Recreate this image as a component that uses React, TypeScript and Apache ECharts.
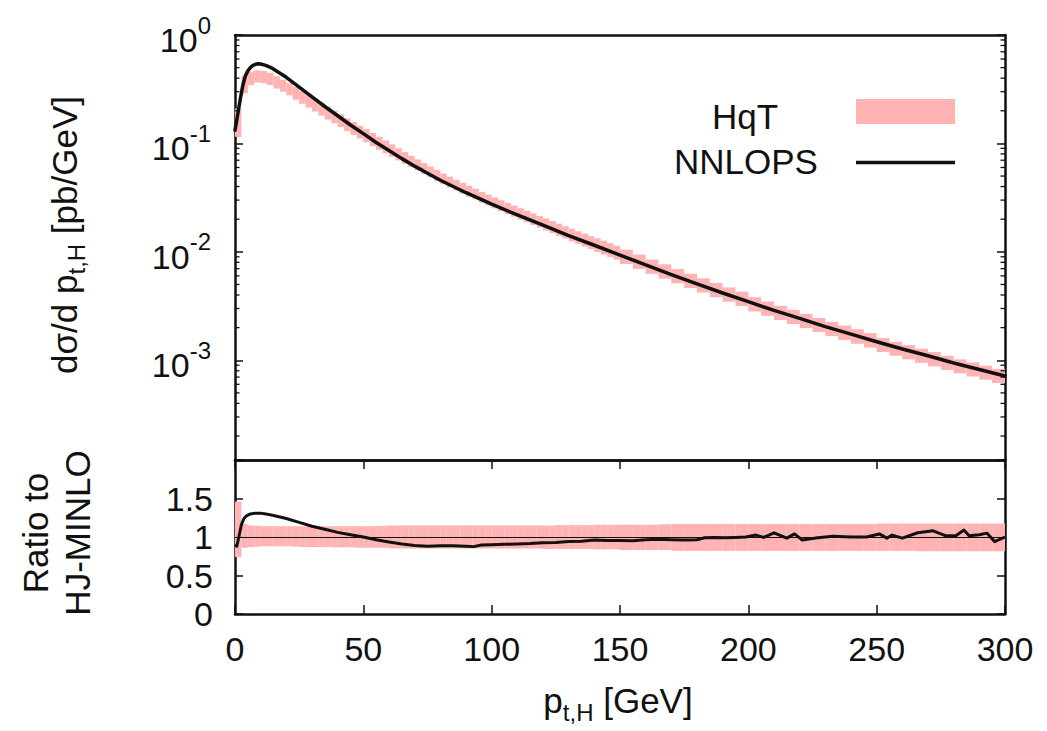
import React, { useEffect, useRef } from "react";
import * as echarts from "echarts";

const FONT = '"Liberation Sans", Arial, Helvetica, sans-serif';
const PINK = "#ffb3b3";
const INK = "#111111";

// HqT histogram bins (GeV)
const binEdges = [
  0, 2.5, 5, 7.5, 10, 12.5, 15, 17.5, 20, 22.5, 25, 27.5, 30, 32.5, 35, 37.5, 40, 42.5, 45, 47.5,
  50, 52.5, 55, 57.5, 60, 62.5, 65, 67.5, 70, 72.5, 75, 77.5, 80, 82.5, 85, 87.5, 90, 92.5, 95, 97.5,
  100, 102.5, 105, 107.5, 110, 112.5, 115, 117.5, 120, 122.5, 125, 127.5, 130, 132.5, 135, 137.5, 140, 142.5, 145, 147.5,
  150, 155, 160, 165, 170, 175, 180, 185, 190, 195, 200, 205, 210, 215, 220, 225, 230, 235, 240, 245,
  250, 255, 260, 265, 270, 275, 280, 285, 290, 295, 300,
];

// HqT band, dσ/dpt [pb/GeV]
const hqtLo = [
  0.115, 0.29, 0.345, 0.364, 0.359, 0.346, 0.321, 0.3, 0.278, 0.253,
  0.232, 0.214, 0.197, 0.1806, 0.1663, 0.1535, 0.1416, 0.13, 0.12, 0.111,
  0.1028, 0.0944, 0.0873, 0.0811, 0.0752, 0.0698, 0.0649, 0.0603, 0.0562, 0.0524,
  0.0488, 0.0452, 0.0421, 0.0394, 0.0368, 0.0344, 0.0324, 0.0305, 0.0284, 0.0268,
  0.02515, 0.02374, 0.0223, 0.02106, 0.01982, 0.01875, 0.01769, 0.01675, 0.01574, 0.01489,
  0.01403, 0.01327, 0.0125, 0.01186, 0.0112, 0.01062, 0.00998, 0.00946, 0.00893, 0.00847,
  0.00772, 0.00696, 0.00627, 0.00566, 0.00512, 0.00463, 0.00421, 0.00381, 0.00347, 0.00316,
  0.00282, 0.00257, 0.00235, 0.00216, 0.00198, 0.00182, 0.00167, 0.00154, 0.00142, 0.00131,
  0.00119, 0.0011, 0.00102, 0.000946, 0.000879, 0.000815, 0.000759, 0.000708, 0.000661, 0.000617,
];
const hqtHi = [
  0.21, 0.42, 0.46, 0.472, 0.465, 0.448, 0.416, 0.388, 0.36, 0.331,
  0.304, 0.281, 0.258, 0.2366, 0.218, 0.201, 0.1855, 0.1706, 0.1575, 0.1457,
  0.1355, 0.1247, 0.1151, 0.1064, 0.098, 0.0902, 0.0831, 0.0768, 0.0711, 0.0659,
  0.0612, 0.0568, 0.0528, 0.0494, 0.0462, 0.0433, 0.0406, 0.0382, 0.0358, 0.0337,
  0.0317, 0.02995, 0.02828, 0.0267, 0.02523, 0.02388, 0.02262, 0.02143, 0.02028, 0.01919,
  0.0182, 0.01722, 0.01633, 0.01549, 0.01472, 0.01396, 0.01334, 0.01265, 0.01202, 0.0114,
  0.01046, 0.00943, 0.0085, 0.00766, 0.00693, 0.00628, 0.0057, 0.00516, 0.0047, 0.00429,
  0.00382, 0.00348, 0.00318, 0.00292, 0.00268, 0.00246, 0.00226, 0.00209, 0.00193, 0.00178,
  0.0016, 0.00148, 0.00138, 0.00128, 0.00119, 0.0011, 0.00102, 0.000955, 0.000891, 0.000832,
];

// HqT band relative to HJ-MINLO
const ratioLo = [
  0.74, 0.86, 0.87, 0.875, 0.88, 0.88, 0.88, 0.88, 0.88, 0.875,
  0.87, 0.87, 0.87, 0.87, 0.87, 0.865, 0.865, 0.865, 0.865, 0.86,
  0.86, 0.86, 0.86, 0.86, 0.85, 0.85, 0.85, 0.85, 0.85, 0.85,
  0.85, 0.85, 0.85, 0.85, 0.85, 0.85, 0.85, 0.85, 0.85, 0.85,
  0.85, 0.85, 0.85, 0.85, 0.85, 0.85, 0.85, 0.85, 0.845, 0.845,
  0.845, 0.845, 0.845, 0.845, 0.845, 0.845, 0.84, 0.84, 0.84, 0.84,
  0.83, 0.83, 0.83, 0.83, 0.82, 0.82, 0.82, 0.82, 0.82, 0.82,
  0.82, 0.82, 0.82, 0.82, 0.82, 0.82, 0.82, 0.82, 0.82, 0.82,
  0.82, 0.82, 0.82, 0.815, 0.815, 0.815, 0.815, 0.815, 0.815, 0.815,
];
const ratioHi = [
  1.46, 1.17, 1.15, 1.145, 1.14, 1.14, 1.14, 1.14, 1.14, 1.14,
  1.14, 1.14, 1.14, 1.14, 1.14, 1.14, 1.14, 1.14, 1.14, 1.14,
  1.14, 1.14, 1.145, 1.145, 1.15, 1.15, 1.15, 1.15, 1.15, 1.15,
  1.15, 1.15, 1.15, 1.15, 1.15, 1.15, 1.15, 1.15, 1.15, 1.15,
  1.15, 1.15, 1.15, 1.15, 1.15, 1.15, 1.15, 1.15, 1.15, 1.15,
  1.155, 1.155, 1.155, 1.155, 1.155, 1.155, 1.16, 1.16, 1.16, 1.16,
  1.16, 1.16, 1.16, 1.165, 1.17, 1.17, 1.17, 1.17, 1.17, 1.17,
  1.17, 1.17, 1.17, 1.17, 1.17, 1.17, 1.17, 1.17, 1.17, 1.17,
  1.175, 1.175, 1.175, 1.175, 1.175, 1.175, 1.175, 1.175, 1.175, 1.175,
];

// NNLOPS spectrum [pt, dσ/dpt]
const nnlops = [
  [0, 0.132], [1, 0.182], [2, 0.251], [3, 0.339], [4, 0.417], [5, 0.468], [6, 0.501], [7, 0.525],
  [8, 0.537], [9, 0.543], [10, 0.54], [12, 0.525], [14, 0.501], [16, 0.468], [18, 0.437], [20, 0.407],
  [25, 0.331], [30, 0.269], [35, 0.219], [40, 0.18], [45, 0.148], [50, 0.123], [55, 0.102], [60, 0.0861],
  [65, 0.0724], [70, 0.0617], [75, 0.0531], [80, 0.0457], [90, 0.0351], [100, 0.0275], [110, 0.0219],
  [120, 0.0176], [130, 0.0141], [140, 0.0115], [150, 0.00933], [160, 0.00759], [170, 0.00617],
  [180, 0.00507], [190, 0.00417], [200, 0.00347], [210, 0.00288], [220, 0.00243], [230, 0.00204],
  [240, 0.00174], [250, 0.00148], [260, 0.00127], [270, 0.0011], [280, 0.000944], [290, 0.000822],
  [300, 0.000716],
];

// NNLOPS / HJ-MINLO [pt, ratio]
const nnlopsRatio = [
  [0, 0.9], [0.7, 0.88], [1.5, 1.0], [2.5, 1.16], [3.5, 1.24], [4.5, 1.275], [6, 1.3], [8, 1.31],
  [10, 1.31], [12, 1.3], [15, 1.28], [20, 1.24], [25, 1.19], [30, 1.14], [35, 1.1], [40, 1.06],
  [45, 1.03], [50, 1.0], [55, 0.965], [60, 0.935], [65, 0.91], [70, 0.89], [75, 0.88], [80, 0.885],
  [85, 0.885], [90, 0.88], [93, 0.875], [96, 0.895], [100, 0.9], [105, 0.905], [110, 0.91],
  [115, 0.915], [120, 0.925], [125, 0.93], [130, 0.94], [135, 0.945], [140, 0.96], [145, 0.955],
  [150, 0.955], [155, 0.952], [160, 0.965], [165, 0.97], [170, 0.965], [175, 0.96], [180, 0.965],
  [183, 0.99], [187, 0.995], [191, 0.99], [195, 0.995], [199, 1.0], [203, 1.025], [206, 0.995],
  [210, 1.055], [215, 0.985], [218, 1.04], [221, 0.96], [227, 0.99], [233, 1.01], [240, 1.0],
  [246, 1.0], [251, 1.04], [254, 0.985], [256, 1.025], [260, 0.985], [266, 1.055], [272, 1.08],
  [277, 1.015], [281, 1.02], [284, 1.09], [286, 1.015], [290, 1.03], [293, 1.05], [296, 0.94],
  [300, 1.0],
];

const X_MIN = 0;
const X_MAX = 300;
const LOG_MIN = -3.92; // ≈ 1.2e-4
const LOG_MAX = 0;
const RATIO_MIN = 0;
const RATIO_MAX = 2;

const minorLogTicks: number[] = [];
for (let n = -4; n <= -1; n++) {
  for (let k = 2; k <= 9; k++) {
    const v = n + Math.log10(k);
    if (v > LOG_MIN && v < LOG_MAX) minorLogTicks.push(v);
  }
}

const topBand = hqtLo.map((lo, i) => [binEdges[i], binEdges[i + 1], Math.log10(lo), Math.log10(hqtHi[i])]);
const ratioBand = ratioLo.map((lo, i) => [binEdges[i], binEdges[i + 1], lo, ratioHi[i]]);

const bandRender = (params: any, api: any) => {
  const p0 = api.coord([api.value(0), api.value(3)]);
  const p1 = api.coord([api.value(1), api.value(2)]);
  return {
    type: "rect",
    shape: { x: p0[0], y: p0[1], width: p1[0] - p0[0], height: p1[1] - p0[1] },
    style: { fill: PINK },
  };
};

const minorRender = (params: any, api: any) => {
  const l = api.coord([X_MIN, api.value(1)]);
  const r = api.coord([X_MAX, api.value(1)]);
  return {
    type: "group",
    children: [
      { type: "line", shape: { x1: l[0], y1: l[1], x2: l[0] + 4.5, y2: l[1] }, style: { stroke: INK, lineWidth: 1.3 } },
      { type: "line", shape: { x1: r[0] - 4.5, y1: r[1], x2: r[0], y2: r[1] }, style: { stroke: INK, lineWidth: 1.3 } },
    ],
  };
};

const frameLine = { show: true, onZero: false, lineStyle: { color: INK, width: 2.5 } };
const tickIn = (len: number) => ({ show: true, inside: true, length: len, lineStyle: { color: INK, width: 1.5 } });

const LABEL_SIZE = 34;
const TITLE_SIZE = 35;
const SMALL = 24;

const option: any = {
  animation: false,
  backgroundColor: "#ffffff",
  textStyle: { fontFamily: FONT },
  grid: [
    { left: 235, top: 35, width: 770, height: 425, containLabel: false, outerBoundsMode: "none" },
    { left: 235, top: 460, width: 770, height: 154, containLabel: false, outerBoundsMode: "none" },
  ],
  xAxis: [
    { type: "value", gridIndex: 0, min: X_MIN, max: X_MAX, interval: 50, position: "bottom", axisLine: frameLine, axisTick: { show: false }, axisLabel: { show: false }, splitLine: { show: false } },
    { type: "value", gridIndex: 0, min: X_MIN, max: X_MAX, interval: 50, position: "top", axisLine: frameLine, axisTick: { show: false }, axisLabel: { show: false }, splitLine: { show: false } },
    {
      type: "value", gridIndex: 1, min: X_MIN, max: X_MAX, interval: 50, position: "bottom",
      axisLine: frameLine, axisTick: tickIn(9), splitLine: { show: false },
      axisLabel: { color: INK, fontSize: LABEL_SIZE, fontFamily: FONT, margin: 18 },
    },
    { type: "value", gridIndex: 1, min: X_MIN, max: X_MAX, interval: 50, position: "top", axisLine: frameLine, axisTick: tickIn(9), axisLabel: { show: false }, splitLine: { show: false } },
  ],
  yAxis: [
    {
      type: "value", gridIndex: 0, min: LOG_MIN, max: LOG_MAX, minInterval: 1, maxInterval: 1, position: "left",
      axisLine: frameLine, axisTick: tickIn(8), splitLine: { show: false },
      axisLabel: {
        color: INK, fontFamily: FONT, margin: 24,
        formatter: (v: number) => {
          const n = Math.round(v);
          if (Math.abs(v - n) > 1e-6) return "";
          return `{b|10}{s|${n}}`;
        },
        rich: {
          b: { fontSize: LABEL_SIZE, fontFamily: FONT, color: INK, lineHeight: 44, verticalAlign: "bottom" },
          s: { fontSize: SMALL, fontFamily: FONT, color: INK, lineHeight: 24, verticalAlign: "top" },
        },
      },
    },
    {
      type: "value", gridIndex: 0, min: LOG_MIN, max: LOG_MAX, minInterval: 1, maxInterval: 1, position: "right",
      axisLine: frameLine, axisTick: tickIn(8), axisLabel: { show: false }, splitLine: { show: false },
    },
    {
      type: "value", gridIndex: 1, min: RATIO_MIN, max: RATIO_MAX, interval: 0.5, position: "left",
      axisLine: frameLine, axisTick: tickIn(8), splitLine: { show: false },
      axisLabel: {
        color: INK, fontSize: LABEL_SIZE, fontFamily: FONT, margin: 22,
        formatter: (v: number) => (v >= RATIO_MAX ? "" : String(v)),
      },
    },
    {
      type: "value", gridIndex: 1, min: RATIO_MIN, max: RATIO_MAX, interval: 0.5, position: "right",
      axisLine: frameLine, axisTick: tickIn(8), axisLabel: { show: false }, splitLine: { show: false },
    },
  ],
  series: [
    {
      type: "custom", name: "HqT", xAxisIndex: 0, yAxisIndex: 0, silent: true, z: 1,
      renderItem: bandRender, encode: { x: [0, 1], y: [2, 3] }, data: topBand,
      itemStyle: { color: PINK },
    },
    {
      type: "line", name: "NNLOPS", xAxisIndex: 0, yAxisIndex: 0, z: 3, silent: true,
      showSymbol: false, symbol: "none",
      lineStyle: { color: INK, width: 3.5, join: "round", cap: "round" },
      data: nnlops.map(([x, y]) => [x, Math.log10(y)]),
    },
    {
      type: "custom", name: "minor ticks", xAxisIndex: 0, yAxisIndex: 0, silent: true, z: 4,
      renderItem: minorRender, encode: { x: 0, y: 1 }, data: minorLogTicks.map((v) => [X_MIN, v]),
    },
    {
      type: "custom", name: "HqT", xAxisIndex: 2, yAxisIndex: 2, silent: true, z: 1,
      renderItem: bandRender, encode: { x: [0, 1], y: [2, 3] }, data: ratioBand,
      itemStyle: { color: PINK },
      markLine: {
        silent: true, symbol: "none", label: { show: false },
        lineStyle: { color: INK, width: 1, type: "solid" },
        data: [{ yAxis: 1 }],
      },
    },
    {
      type: "line", name: "NNLOPS", xAxisIndex: 2, yAxisIndex: 2, z: 3, silent: true,
      showSymbol: false, symbol: "none",
      lineStyle: { color: INK, width: 3, join: "round" },
      data: nnlopsRatio,
    },
  ],
  graphic: [
    {
      type: "text", x: 64, y: 235, rotation: Math.PI / 2, z: 10,
      style: {
        text: "{m|dσ/d p}{s|t,H}{m| [pb/GeV]}",
        align: "center", verticalAlign: "middle", fill: INK,
        rich: {
          m: { fontSize: TITLE_SIZE, fontFamily: FONT, fill: INK, lineHeight: 48, verticalAlign: "middle" },
          s: { fontSize: SMALL, fontFamily: FONT, fill: INK, lineHeight: 24, verticalAlign: "bottom" },
        },
      },
    },
    {
      type: "text", x: 56, y: 533, rotation: Math.PI / 2, z: 10,
      style: {
        text: "Ratio to\nHJ-MINLO", align: "center", verticalAlign: "middle",
        fill: INK, fontSize: TITLE_SIZE, fontFamily: FONT, lineHeight: 42,
      },
    },
    {
      type: "text", x: 618, y: 700, z: 10,
      style: {
        text: "{m|p}{s|t,H}{m| [GeV]}",
        align: "center", verticalAlign: "middle", fill: INK,
        rich: {
          m: { fontSize: TITLE_SIZE, fontFamily: FONT, fill: INK, lineHeight: 48, verticalAlign: "middle" },
          s: { fontSize: SMALL, fontFamily: FONT, fill: INK, lineHeight: 24, verticalAlign: "bottom" },
        },
      },
    },
    {
      type: "text", x: 745, y: 116, z: 10,
      style: { text: "HqT", align: "center", verticalAlign: "middle", fill: INK, fontSize: TITLE_SIZE, fontFamily: FONT },
    },
    {
      type: "text", x: 746, y: 161, z: 10,
      style: { text: "NNLOPS", align: "center", verticalAlign: "middle", fill: INK, fontSize: TITLE_SIZE, fontFamily: FONT },
    },
    { type: "rect", z: 10, shape: { x: 856, y: 99, width: 99, height: 25 }, style: { fill: PINK } },
    { type: "line", z: 10, shape: { x1: 856, y1: 162.5, x2: 955, y2: 162.5 }, style: { stroke: INK, lineWidth: 3.5 } },
  ],
};

export default function App() {
  const ref = useRef<HTMLDivElement>(null);
  useEffect(() => {
    document.body.style.margin = "0";
    const chart = echarts.init(ref.current as HTMLDivElement, null, { renderer: "svg" });
    chart.setOption(option);
    return () => chart.dispose();
  }, []);
  return <div ref={ref} style={{ width: 1047, height: 731 }} />;
}
